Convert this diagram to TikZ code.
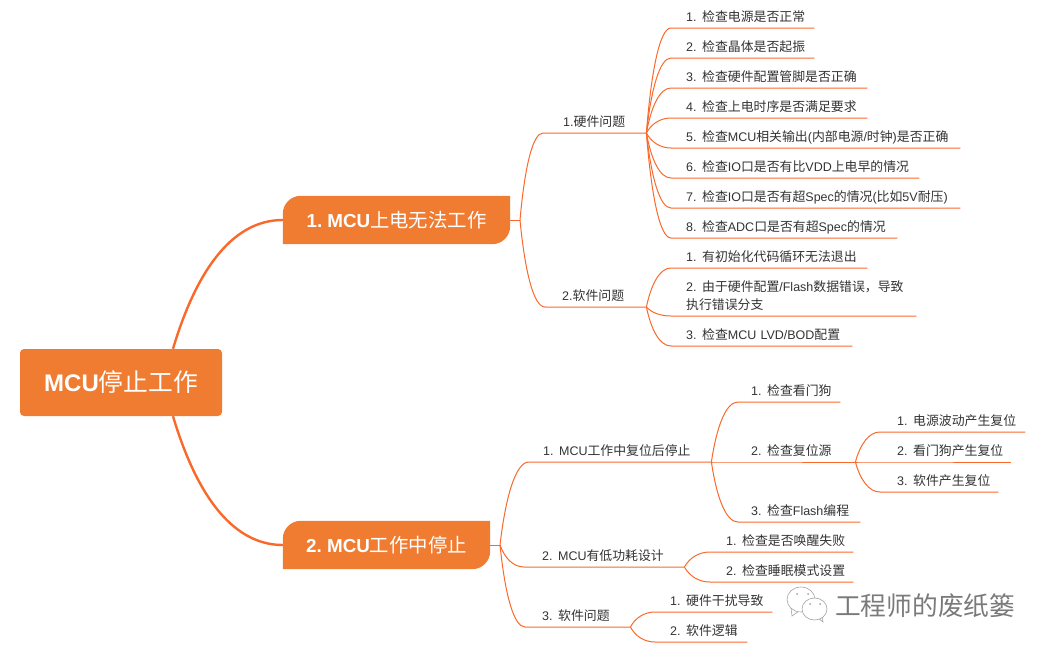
\documentclass[tikz,border=0pt]{standalone}
\usepackage{fontspec}
\setmainfont{Liberation Sans}
\newfontfamily\zhfont[Scale=1.03,BoldFont={Noto Sans CJK SC}]{Noto Sans CJK SC}
\newcommand\zh[1]{{\zhfont #1}}
\newcommand\numgap{\hspace{5.5pt}}
\usetikzlibrary{calc,backgrounds}
\definecolor{linec}{HTML}{F9692B}
\definecolor{fillc}{HTML}{F07C32}
\definecolor{textc}{HTML}{333333}
\definecolor{markc}{HTML}{7A7A7A}
\frenchspacing
\tikzset{
  conn/.style={draw=linec,line width=1pt,line join=round},
  thick conn/.style={draw=linec,line width=2.4pt},
  leaf/.style={anchor=south west,inner sep=0pt,align=left,text=textc,font=\fontsize{12.5}{18}\selectfont,text height=12pt,text depth=6pt},
  rootbox/.style={fill=fillc,rounded corners=4pt,text=white,minimum width=202pt,minimum height=67pt,inner sep=0pt,font=\fontsize{24}{28}\selectfont\bfseries},
  branchbox/.style={text=white,minimum height=48pt,inner sep=0pt,font=\fontsize{18.8}{22}\selectfont\bfseries},
  wmark/.style={text=markc,inner sep=0pt,font=\fontsize{25}{28}\selectfont},
  wechat/.style={draw=markc!70,line width=0.6pt,fill=white}
}
\newcommand\lf[5]{\pgfmathsetmacro{\lfw}{#4-#2}\node[leaf,text width=\lfw pt] (#1) at (#2,#3) {#5};}
\newcommand\link[3][15]{\draw[conn] let \p1=(#2),\p2=(#3.south west),\n1={\x2-#1pt} in
  (#2) .. controls ({\x1+0.2*(\n1-\x1)},{\y1+0.6*(\y2-\y1)}) and ({\x1+0.55*(\n1-\x1)},\y2) .. (\n1,\y2) -- (#3.south west) -- (#3.south east);}
\newcommand\branchfill[1]{\begin{scope}[on background layer]
  \fill[fillc] (#1.south west) [rounded corners=18pt] -- (#1.north west) [sharp corners] -- (#1.north east) [rounded corners=18pt] -- (#1.south east) [sharp corners] -- cycle;
\end{scope}}
\begin{document}
\begin{tikzpicture}[x=1pt,y=-1pt]
\useasboundingbox (0,0) rectangle (1050,653);

\node[rootbox] (root) at (121,382.5) {\raisebox{1.5pt}{MCU\zh{停止工作}}};
\node[branchbox,minimum width=227pt] (b1) at (396.5,220) {\raisebox{1pt}{1. MCU\zh{上电无法工作}}};
\node[branchbox,minimum width=207pt] (b2) at (386.5,545) {\raisebox{1pt}{2. MCU\zh{工作中停止}}};
\branchfill{b1}
\branchfill{b2}
\draw[thick conn] ($(root.north)+(52,0)$) .. controls (195,275) and (230,220) .. (b1.west);
\draw[thick conn] ($(root.south)+(52,0)$) .. controls (195,490) and (230,545) .. (b2.west);

\coordinate (j1) at (520,220);
\coordinate (j2) at (500,545);
\draw[conn] (b1.east) -- (j1);
\draw[conn] (b2.east) -- (j2);

% first branch
\lf{h}{563}{133}{646}{1.\zh{硬件问题}}
\lf{s}{562}{307}{646}{2.\zh{软件问题}}
\link[20]{j1}{h}
\link[17]{j1}{s}
\lf{h1}{686}{28}{814}{1.\numgap\zh{检查电源是否正常}}
\lf{h2}{686}{58}{814}{2.\numgap\zh{检查晶体是否起振}}
\lf{h3}{686}{88}{867}{3.\numgap\zh{检查硬件配置管脚是否正确}}
\lf{h4}{686}{118}{867}{4.\numgap\zh{检查上电时序是否满足要求}}
\lf{h5}{686}{148}{960}{5.\numgap\zh{检查}MCU\zh{相关输出}(\zh{内部电源}/\zh{时钟})\zh{是否正确}}
\lf{h6}{686}{178}{919}{6.\numgap\zh{检查}IO\zh{口是否有比}VDD\zh{上电早的情况}}
\lf{h7}{686}{208}{960}{7.\numgap\zh{检查}IO\zh{口是否有超}Spec\zh{的情况}(\zh{比如}5V\zh{耐压})}
\lf{h8}{686}{238}{897}{8.\numgap\zh{检查}ADC\zh{口是否有超}Spec\zh{的情况}}
\foreach \kid in {h1,h2,h3,h4,h5,h6,h7,h8} {\link{h.south east}{\kid}}
\lf{s1}{686}{268}{867}{1.\numgap\zh{有初始化代码循环无法退出}}
\node[leaf,text width=230pt,text depth=24pt] (s2) at (686,316) {2.\numgap\zh{由于硬件配置}/Flash\zh{数据错误，导致}\\\zh{执行错误分支}};
\lf{s3}{686}{346}{852}{3.\numgap\zh{检查}MCU LVD/BOD\zh{配置}}
\foreach \kid in {s1,s2,s3} {\link{s.south east}{\kid}}

% second branch
\lf{r}{543}{462}{711}{1.\numgap MCU\zh{工作中复位后停止}}
\lf{l}{542}{567}{684}{2.\numgap MCU\zh{有低功耗设计}}
\lf{g}{542}{627}{630}{3.\numgap\zh{软件问题}}
\link[14]{j2}{r}
\link[18]{j2}{l}
\link[17]{j2}{g}
\lf{r1}{751}{402}{840}{1.\numgap\zh{检查看门狗}}
\lf{r2}{751}{462}{855}{2.\numgap\zh{检查复位源}}
\lf{r3}{751}{522}{860}{3.\numgap\zh{检查}Flash\zh{编程}}
\foreach \kid in {r1,r2,r3} {\link[13]{r.south east}{\kid}}
\lf{q1}{897}{432}{1025}{1.\numgap\zh{电源波动产生复位}}
\lf{q2}{897}{462}{1011}{2.\numgap\zh{看门狗产生复位}}
\lf{q3}{897}{492}{998}{3.\numgap\zh{软件产生复位}}
\foreach \kid in {q1,q2,q3} {\link[17]{r2.south east}{\kid}}
\lf{l1}{726}{552}{853}{1.\numgap\zh{检查是否唤醒失败}}
\lf{l2}{726}{582}{853}{2.\numgap\zh{检查睡眠模式设置}}
\foreach \kid in {l1,l2} {\link[16]{l.south east}{\kid}}
\lf{g1}{670}{612}{772}{1.\numgap\zh{硬件干扰导致}}
\lf{g2}{670}{642}{747}{2.\numgap\zh{软件逻辑}}
\foreach \kid in {g1,g2} {\link{g.south east}{\kid}}

% watermark
\node[wmark,anchor=west] (wm) at (835,606) {\zh{工程师的废纸篓}};
\draw[wechat] (791,608) -- (792,616) -- (799,611) -- cycle;
\draw[wechat] (801,599.5) ellipse [x radius=14,y radius=12.5];
\draw[wechat] (817,617) -- (823,622) -- (822,614) -- cycle;
\draw[wechat] (814.5,609) ellipse [x radius=12.5,y radius=11];
\fill[markc!70] (797,594) circle (1pt) (808,594) circle (1pt) (810,604) circle (1pt) (820,604) circle (1pt);
\end{tikzpicture}
\end{document}
